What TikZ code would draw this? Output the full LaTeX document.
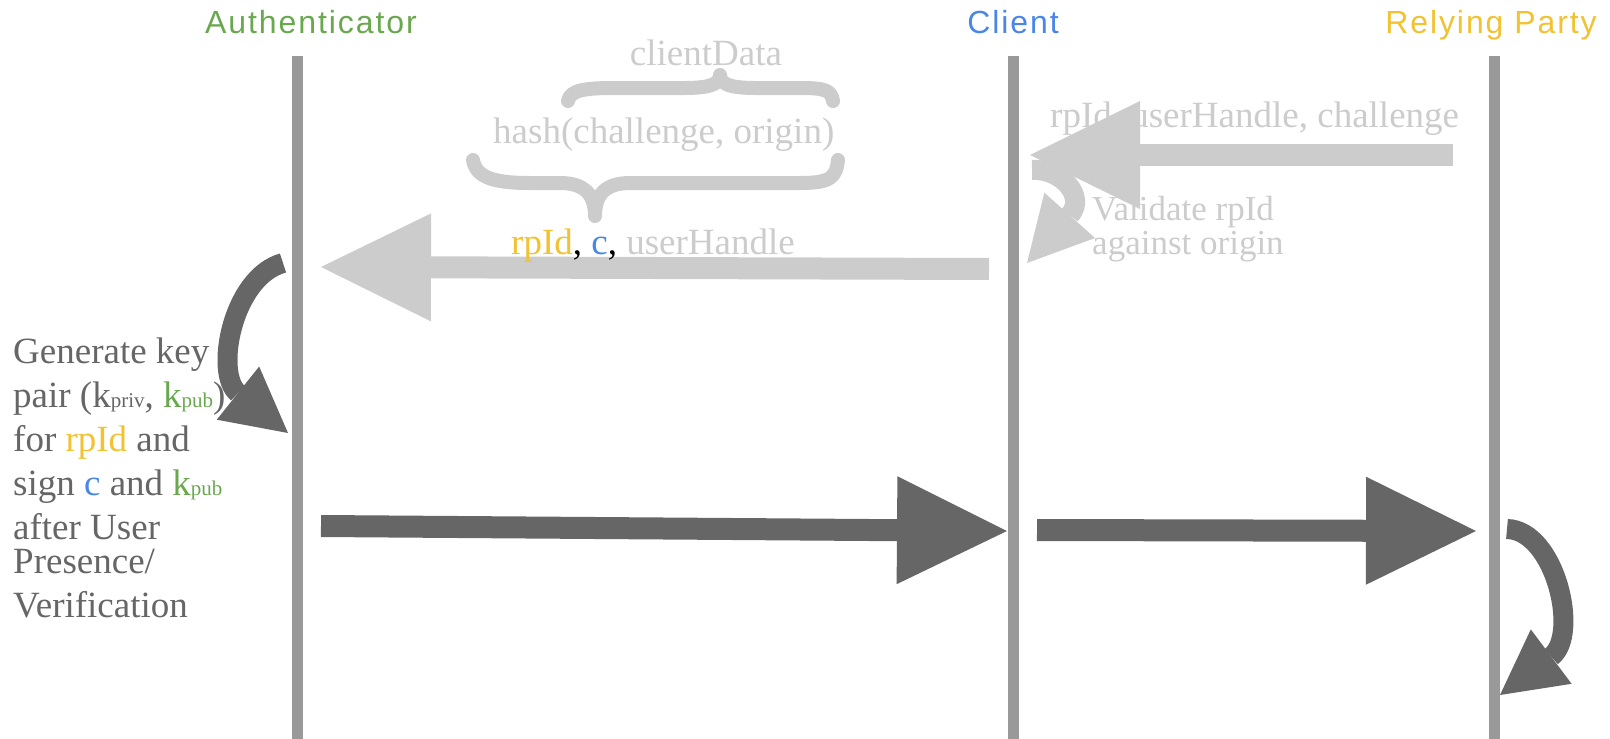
\documentclass[tikz,border=0pt]{standalone}
\usepackage{fontspec}
\setmainfont{Liberation Serif}
\newfontfamily\headfont[LetterSpace=6]{Liberation Sans}
\usepackage{xcolor}
\usetikzlibrary{arrows.meta}
\definecolor{arrowlight}{HTML}{CCCCCC}
\definecolor{arrowdark}{HTML}{666666}
\definecolor{lifegray}{HTML}{999999}
\definecolor{authgreen}{HTML}{6AA84F}
\definecolor{clientblue}{HTML}{4A86E8}
\definecolor{rpyellow}{HTML}{F1C232}
\newcommand{\smallsub}[1]{{\fontsize{21}{21}\selectfont #1}}
\tikzstyle{lifeline} = [draw=lifegray, line width=11pt]
\tikzstyle{bigarrow} = [line width=22pt, -{Triangle[length=110pt,width=108pt,line width'=0pt]}]
\tikzstyle{bendarrow} = [line width=20pt, -{Triangle[length=64pt,width=68pt,line width'=0pt]}]
\tikzstyle{brace} = [draw=arrowlight, line width=14pt, line cap=round, line join=round]
\tikzstyle{headtext} = [font=\headfont\fontsize{32}{32}\selectfont, anchor=base, inner sep=0pt]
\tikzstyle{lbl} = [font=\fontsize{37}{44}\selectfont, anchor=base west, inner sep=0pt]

\begin{document}
\begin{tikzpicture}[x=1pt,y=-1pt]
    \useasboundingbox (0,0) rectangle (1610,739);
    % lifelines
    \coordinate (authTop) at (297,56);
    \coordinate (authBot) at (297,739);
    \coordinate (clientTop) at (1013,56);
    \coordinate (clientBot) at (1013,739);
    \coordinate (rpTop) at (1494,56);
    \coordinate (rpBot) at (1494,739);
    \draw[lifeline] (authTop) -- (authBot);
    \draw[lifeline] (clientTop) -- (clientBot);
    \draw[lifeline] (rpTop) -- (rpBot);
    \node[headtext, text=authgreen] (auth) at (311,33) {Authenticator};
    \node[headtext, text=clientblue] (client) at (1013,33) {Client};
    \node[headtext, text=rpyellow] (rp) at (1491,33) {Relying Party};

    % relying party -> client
    \node[lbl, text=arrowlight] (req) at (1050,127) {rpId, userHandle, challenge};
    \coordinate (reqA) at (1453,155);
    \coordinate (reqB) at (1030,155);
    \draw[bigarrow, arrowlight] (reqA) -- (reqB);

    % client checks origin
    \node[lbl, font=\fontsize{35}{35}\selectfont, text=arrowlight] (val) at (1092,220) {Validate rpId};
    \node[lbl, font=\fontsize{35}{35}\selectfont, text=arrowlight] (valb) at (1092,254) {against origin};
    \coordinate (valA) at (1032,170);
    \coordinate (valB) at (1027,263);
    \draw[bendarrow, arrowlight] (valA) .. controls (1060,168) and (1087,196) .. (valB);

    % client data braces
    \draw[brace] (568,101) .. controls (570,90) and (585,88) .. (615,88) -- (685,88)
        .. controls (710,88) and (720,84) .. (720,75) .. controls (720,84) and (730,88) .. (755,88)
        -- (800,88) .. controls (825,88) and (831,90) .. (833,101);
    \node[lbl, anchor=base, text=arrowlight] (cdata) at (706,65) {clientData};
    \node[lbl, text=arrowlight] (hash) at (493,143) {hash(challenge, origin)};
    \draw[brace] (473,160) .. controls (476,178) and (495,183) .. (530,183) -- (560,183)
        .. controls (585,183) and (595,195) .. (595,216) .. controls (595,195) and (605,183) .. (630,183)
        -- (800,183) .. controls (830,183) and (836,178) .. (838,160);

    % client -> authenticator
    \coordinate (crA) at (989,269);
    \coordinate (crB) at (321,267);
    \draw[bigarrow, arrowlight] (crA) -- (crB);
    \node[lbl] (args) at (511,254) {\textcolor{rpyellow}{rpId}, \textcolor{clientblue}{c}, \textcolor{arrowlight}{userHandle}};

    % authenticator makes the credential
    \coordinate (genA) at (283,263);
    \coordinate (genB) at (288,433);
    \draw[bendarrow, arrowdark] (genA) .. controls (232,277) and (214,374) .. (genB);
    \node[lbl, text=arrowdark, align=left] (gen) at (13,617) {Generate key\\
        pair (k\smallsub{priv}, \textcolor{authgreen}{k\smallsub{pub}})\\
        for \textcolor{rpyellow}{rpId} and\\
        sign \textcolor{clientblue}{c} and \textcolor{authgreen}{k\smallsub{pub}}\\
        after User\\[-10pt]
        Presence/\\
        Verification};

    % responses
    \coordinate (resA) at (321,526);
    \coordinate (resB) at (1007,531);
    \draw[bigarrow, arrowdark] (resA) -- (resB);
    \coordinate (fwdA) at (1037,530);
    \coordinate (fwdB) at (1476,531);
    \draw[bigarrow, arrowdark] (fwdA) -- (fwdB);
    \coordinate (chkA) at (1507,529);
    \coordinate (chkB) at (1500,695);
    \draw[bendarrow, arrowdark] (chkA) .. controls (1555,530) and (1580,635) .. (chkB);
\end{tikzpicture}
\end{document}
